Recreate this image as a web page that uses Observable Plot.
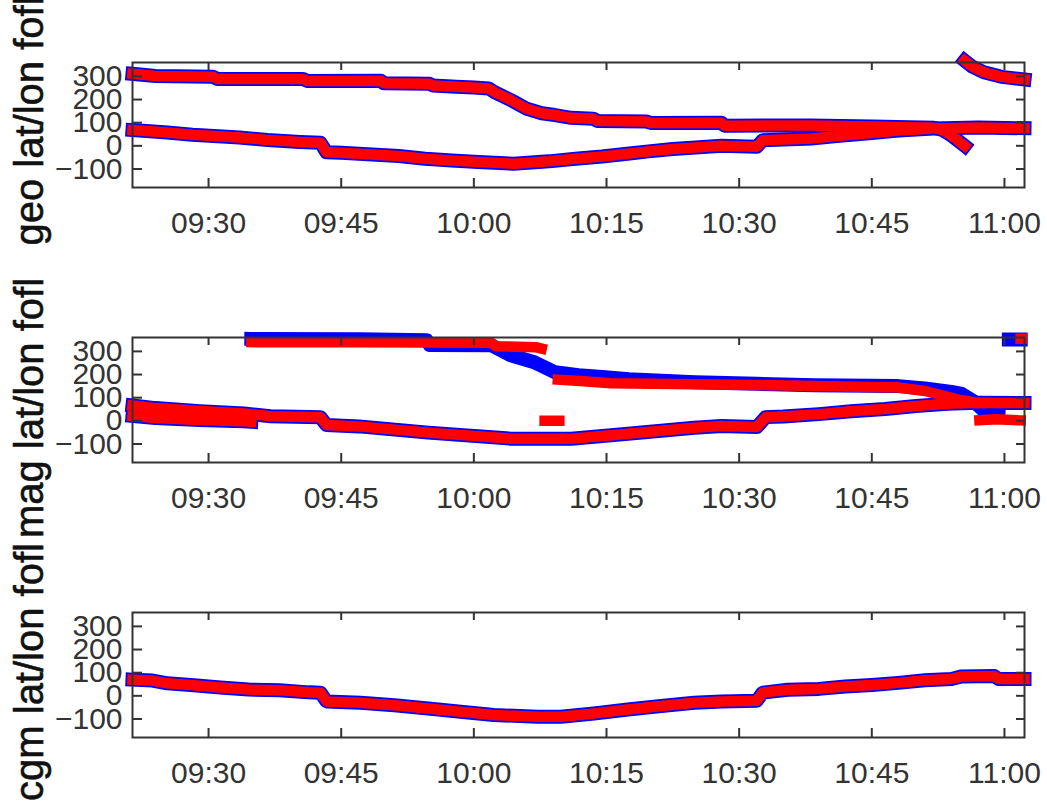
<!DOCTYPE html>
<html><head><meta charset="utf-8">
<script src="https://cdn.jsdelivr.net/npm/d3@7"></script>
<script src="https://cdn.jsdelivr.net/npm/@observablehq/plot@0.6"></script>
<style>
body{margin:0;background:#fff;}
#root{position:relative;width:1047px;height:803px;overflow:hidden;background:#fff;}
.panel{position:absolute;left:0;}
</style>
</head><body><div id="root"></div>
<script>
// ---- data ----
const panelLabels = ["geo lat/lon fofl", "mag lat/lon fofl", "cgm lat/lon fofl"];
const ticksX = ["09:30", "09:45", "10:00", "10:15", "10:30", "10:45", "11:00"];
const ticksY = [-100, 0, 100, 200, 300];
const xStart = "09:21:24", xEnd = "11:02:16";

// geo panel
const geoLonT = ["09:21:24","09:24:00","09:30:30","09:31:00","09:40:40","09:41:10","09:49:30","09:49:50","09:55:00","09:55:20","09:58:00","10:00:00","10:01:40","10:02:20","10:04:10","10:06:00","10:07:40","10:09:10","10:11:00","10:13:30","10:14:00","10:19:30","10:20:00","10:28:00","10:28:20","10:38:00","10:45:00","10:52:00","10:53:00","10:54:00","10:55:30",null,"10:55:30","10:56:20","10:57:40","10:59:40","11:02:16"];
const geoLonV = [311,302,298,289,289,280,281,270,268,261,255,252,248,232,198,160,141,133,121,117,107,105,99,100,87,88,84,78,68,45,0,null,368,343,318,298,287];
const geoLatT = ["09:21:24","09:25:20","09:28:10","09:33:30","09:36:40","09:40:20","09:42:40","09:43:20","09:45:00","09:48:00","09:51:30","09:54:30","09:57:30","10:00:30","10:04:30","10:08:30","10:11:30","10:14:30","10:17:20","10:19:45","10:22:30","10:25:30","10:28:00","10:32:00","10:32:40","10:38:10","10:41:00","10:45:00","10:48:00","10:52:00","10:57:00","11:02:16"];
const geoLatV = [68,58,48,36,25,17,13,-28,-30,-36,-44,-56,-63,-70,-77,-67,-56,-46,-34,-24,-14,-6,0,-4,24,32,42,55,66,75,79,76];

// mag panel
const magLatT = ["09:21:24","09:24:00","09:29:00","09:34:00","09:37:00","09:42:40","09:43:20","09:47:00","09:54:50","10:04:10","10:11:00","10:13:35","10:17:25","10:21:10","10:24:55","10:28:00","10:32:00","10:33:00","10:35:00","10:39:00","10:42:40","10:46:30","10:50:00","10:53:30","10:57:00","11:02:16"];
const magLatV = [66,55,42,32,20,15,-18,-24,-51,-77,-77,-69,-56,-43,-30,-22,-27,16,19,29,41,51,64,74,78,77];
const magRedLonT = ["09:21:24","09:24:00","09:29:00","09:34:00","09:34:50",null,"09:34:50","09:47:00","10:02:00","10:02:30","10:07:00","10:07:40",null,"10:08:00","10:09:40",null,"10:09:30","10:12:00","10:15:30","10:25:00","10:32:00","10:38:30","10:48:00","10:51:00","10:53:30","10:55:00","10:56:40",null,"10:57:10","10:59:00","11:01:50",null,"11:01:50","11:02:00"];
const magRedLonV = [21,12,4,-2,-4,null,340,339,337,322,318,312,null,0,0,null,178,172,162,158,155,150,144,129,105,90,79,null,3,7,2,null,355,355];
const magBlueLonT = ["09:21:24","09:24:00","09:29:00","09:34:00","09:34:50",null,"09:34:50","09:47:00","09:54:40","09:55:00","10:02:00","10:04:10","10:06:50","10:09:10","10:11:50","10:14:30","10:17:30","10:25:00","10:32:00","10:38:30","10:48:00","10:51:00","10:54:00","10:55:10","10:56:30","10:57:30","10:58:00","10:59:20",null,"11:00:30","11:01:50"];
const magBlueLonV = [21,12,4,-2,-4,null,354,352,348,328,326,283,253,210,197,189,180,167,160,154,150,140,125,116,85,50,40,38,null,351,351];

// cgm panel
const cgmT = ["09:21:24","09:23:40","09:25:20","09:28:20","09:31:20","09:34:30","09:38:00","09:41:20","09:42:40","09:43:20","09:47:10","09:51:00","09:54:50","09:58:30","10:02:15","10:07:15","10:09:50","10:13:35","10:17:25","10:21:10","10:24:55","10:28:00","10:32:00","10:32:40","10:35:30","10:39:00","10:42:00","10:45:00","10:48:00","10:51:00","10:54:00","10:55:10","10:58:50","10:59:20","11:02:16"];
const cgmV = [70,66,54,46,36,27,24,15,13,-24,-30,-41,-55,-69,-83,-90,-90,-76,-59,-44,-30,-24,-21,14,26,30,40,47,56,67,73,84,86,73,73];

// ---- helpers ----
const T = s => { const [h, m, x] = s.split(":").map(Number); return new Date(Date.UTC(2000, 0, 1, h, m, x || 0)); };
const rows = series => series.flatMap(([ts, vs], k) => ts.map((t, i) => ({k, t: t == null ? null : T(t), v: vs[i]})));

const W = 1047, ML = 132, MR = 23, MT = 62, FH = 125;
const panels = [
  {label: panelLabels[0], top: 0, height: 275, shift: -4,
   blue: [[geoLonT, geoLonV], [geoLatT, geoLatV]], red: [[geoLonT, geoLonV], [geoLatT, geoLatV]]},
  {label: panelLabels[1], top: 275, height: 275, shift: 8,
   blue: [[magBlueLonT, magBlueLonV], [magLatT, magLatV]], red: [[magRedLonT, magRedLonV], [magLatT, magLatV]]},
  {label: panelLabels[2], top: 550, height: 253, shift: -3,
   blue: [[cgmT, cgmV]], red: [[cgmT, cgmV]]}
];

const root = document.getElementById("root");
const axisColor = "#333";
const fw = W - ML - MR;

for (const p of panels) {
  const xt = ticksX.map(T);
  const svg = Plot.plot({
    width: W, height: p.height,
    marginLeft: ML, marginRight: MR, marginTop: MT, marginBottom: p.height - MT - FH,
    style: {fontFamily: "'Liberation Sans', Arial, Helvetica, sans-serif", fontSize: "30px", color: axisColor, background: "transparent", overflow: "visible"},
    x: {type: "utc", domain: [T(xStart), T(xEnd)], ticks: xt, tickFormat: d3.utcFormat("%H:%M"), tickSize: 0, tickPadding: 24, label: null},
    y: {domain: [-180, 360], ticks: ticksY, tickSize: 0, tickPadding: 10, label: null},
    marks: [
      Plot.line(rows(p.blue), {x: "t", y: "v", z: "k", stroke: "#0000ff", strokeWidth: 14, strokeLinecap: "square", strokeLinejoin: "round"}),
      Plot.line(rows(p.red), {x: "t", y: "v", z: "k", stroke: "#ff0000", strokeWidth: 10.5, strokeLinecap: "square", strokeLinejoin: "round"}),
      Plot.frame({stroke: axisColor, strokeWidth: 2}),
      Plot.tickX(xt, {x: d => d, insetTop: FH - 9, stroke: axisColor, strokeWidth: 2}),
      Plot.tickX(xt, {x: d => d, insetBottom: FH - 8, stroke: axisColor, strokeWidth: 2}),
      Plot.tickY(ticksY, {y: d => d, insetRight: fw - 10, stroke: axisColor, strokeWidth: 2}),
      Plot.tickY(ticksY, {y: d => d, insetLeft: fw - 8, stroke: axisColor, strokeWidth: 2}),
      Plot.text([p.label], {text: d => d, frameAnchor: "left", textAnchor: "middle", lineAnchor: "middle", rotate: -90, dx: -102, dy: p.shift, fontSize: 40, fill: "#111", stroke: "#111", strokeWidth: 0.6})
    ]
  });
  const div = document.createElement("div");
  div.className = "panel";
  div.style.top = p.top + "px";
  div.appendChild(svg);
  root.appendChild(div);
}
</script>
</body></html>
